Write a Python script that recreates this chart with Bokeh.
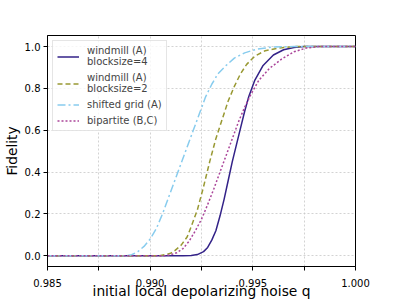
from bokeh.plotting import figure
from bokeh.models import FixedTicker, PrintfTickFormatter, Legend, LegendItem, Range1d
from bokeh.embed import file_html
from bokeh.resources import INLINE

# shifted grid (A)
q_shift = [0.9850, 0.9888, 0.9891, 0.9894, 0.9897, 0.9900, 0.9903, 0.9906, 0.9909, 0.9912,
           0.9915, 0.9918, 0.9921, 0.9924, 0.9927, 0.9930, 0.9933, 0.9937, 0.9941, 0.9946,
           0.9952, 0.9960, 0.9970, 1.0000]
f_shift = [0.0, 0.0, 0.005, 0.02, 0.045, 0.08, 0.13, 0.2, 0.28, 0.36,
           0.44, 0.52, 0.60, 0.68, 0.76, 0.82, 0.87, 0.91, 0.945, 0.97,
           0.988, 0.998, 1.0, 1.0]

# windmill (A) blocksize=2
q_wm2 = [0.9850, 0.9904, 0.9907, 0.9910, 0.9912, 0.9915, 0.9918, 0.9920, 0.9923, 0.9926,
         0.9929, 0.9932, 0.9935, 0.9938, 0.9941, 0.9944, 0.9947, 0.9951, 0.9956, 0.9962,
         0.9970, 1.0000]
f_wm2 = [0.0, 0.0, 0.005, 0.012, 0.025, 0.05, 0.09, 0.14, 0.22, 0.33,
         0.45, 0.56, 0.65, 0.74, 0.81, 0.87, 0.915, 0.955, 0.98, 0.992,
         1.0, 1.0]

# windmill (A) blocksize=4
q_wm4 = [0.9850, 0.9916, 0.9920, 0.9923, 0.9926, 0.9928, 0.9930, 0.9932, 0.9934, 0.9936,
         0.9938, 0.9940, 0.9942, 0.9944, 0.9946, 0.9948, 0.9951, 0.9955, 0.9960, 0.9965,
         0.9970, 0.9975, 1.0000]
f_wm4 = [0.0, 0.0, 0.002, 0.006, 0.02, 0.04, 0.075, 0.12, 0.19, 0.27,
         0.36, 0.45, 0.53, 0.61, 0.69, 0.76, 0.84, 0.91, 0.96, 0.985,
         0.996, 1.0, 1.0]

# bipartite (B,C)
q_bip = [0.9850, 0.9907, 0.9910, 0.9913, 0.9916, 0.9919, 0.9922, 0.9925, 0.9928, 0.9931,
         0.9934, 0.9937, 0.9940, 0.9943, 0.9946, 0.9949, 0.9953, 0.9958, 0.9964, 0.9970,
         0.9976, 0.9982, 1.0000]
f_bip = [0.0, 0.0, 0.005, 0.015, 0.035, 0.07, 0.12, 0.175, 0.245, 0.32,
         0.40, 0.48, 0.56, 0.64, 0.71, 0.77, 0.84, 0.895, 0.94, 0.975,
         0.993, 1.0, 1.0]

x_ticks = [0.985, 0.9875, 0.990, 0.9925, 0.995, 0.9975, 1.000]
x_labels = {0.985: "0.985", 0.9875: "", 0.990: "0.990", 0.9925: "", 0.995: "0.995", 0.9975: "", 1.000: "1.000"}
y_ticks = [0.0, 0.2, 0.4, 0.6, 0.8, 1.0]

p = figure(frame_width=308, frame_height=231, output_backend="svg", toolbar_location=None,
           x_range=Range1d(0.985, 1.0), y_range=Range1d(-0.051, 1.053),
           min_border_left=42, min_border_right=25, min_border_top=35, min_border_bottom=0)
p.background_fill_color = "white"
p.border_fill_color = "white"
p.outline_line_color = "black"
p.outline_line_width = 1

r1 = p.line(q_wm4, f_wm4, line_color="#332288", line_width=1.5)
r2 = p.line(q_wm2, f_wm2, line_color="#999933", line_width=1.5, line_dash="5 3")
r3 = p.line(q_shift, f_shift, line_color="#88CCEE", line_width=1.5, line_dash="8 3 2 3")
r4 = p.line(q_bip, f_bip, line_color="#AA4499", line_width=1.5, line_dash="2 2")

p.xaxis.ticker = FixedTicker(ticks=x_ticks)
p.xaxis.major_label_overrides = x_labels
p.yaxis.ticker = FixedTicker(ticks=y_ticks)
p.yaxis.formatter = PrintfTickFormatter(format="%.1f")

for ax in (p.xaxis[0], p.yaxis[0]):
    ax.major_tick_out = 4
    ax.major_tick_in = 0
    ax.minor_tick_out = 0
    ax.minor_tick_in = 0
    ax.major_label_text_font = "DejaVu Sans"
    ax.major_label_text_font_size = "10px"
    ax.major_label_text_color = "black"
    ax.axis_label_text_font = "DejaVu Sans"
    ax.axis_label_text_font_size = "13.8px"
    ax.axis_label_text_font_style = "normal"
    ax.axis_label_text_color = "black"
    ax.axis_line_color = "black"
    ax.major_tick_line_color = "black"

p.xaxis.major_label_standoff = 8
p.yaxis.major_label_standoff = 3
p.xaxis.axis_label = "initial local depolarizing noise q"
p.yaxis.axis_label = "Fidelity"
p.xaxis.axis_label_standoff = -7
p.yaxis.axis_label_standoff = 2

p.xgrid.grid_line_color = "#c8c8c8"
p.ygrid.grid_line_color = "#c8c8c8"
p.xgrid.grid_line_dash = "2 2"
p.ygrid.grid_line_dash = "2 2"
p.xgrid.grid_line_width = 0.8
p.ygrid.grid_line_width = 0.8

legend = Legend(items=[
    LegendItem(label="windmill (A)\nblocksize=4", renderers=[r1]),
    LegendItem(label="windmill (A)\nblocksize=2", renderers=[r2]),
    LegendItem(label="shifted grid (A)", renderers=[r3]),
    LegendItem(label="bipartite (B,C)", renderers=[r4]),
], location="top_left")
legend.label_text_font = "DejaVu Sans"
legend.label_text_font_size = "10px"
legend.label_text_line_height = 1.2
legend.glyph_width = 22
legend.glyph_height = 11
legend.label_height = 11
legend.label_standoff = 8
legend.spacing = 5
legend.padding = 4
legend.margin = 5
legend.border_line_color = "#cccccc"
legend.border_line_width = 1
legend.background_fill_alpha = 0.8
p.add_layout(legend)

open("out.html", "w").write(file_html(p, INLINE))
